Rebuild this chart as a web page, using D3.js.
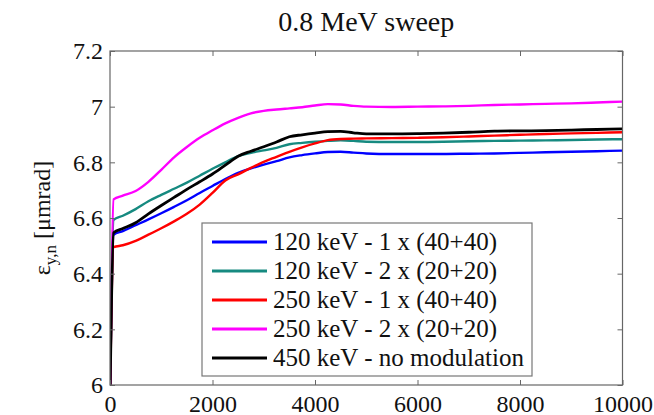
<!DOCTYPE html>
<html>
<head>
<meta charset="utf-8">
<script src="https://cdn.jsdelivr.net/npm/d3@7"></script>
<style>
  body { margin: 0; background: #fff; }
  text { font-family: "Liberation Serif", "Times New Roman", serif; fill: #111; }
</style>
</head>
<body>
<script>
// turns along the sweep (x) and emittance values per run
var turns = [0, 70, 250, 500, 750, 1000, 1250, 1500, 1750, 2000, 2250, 2500, 2750, 3000, 3250, 3500,
             3750, 4000, 4250, 4500, 4750, 5000, 5500, 6000, 6500, 7000, 7500, 8000, 8500, 9000, 9500, 10000];

var blue_vals = [5.95, 6.540, 6.553, 6.574, 6.595, 6.617, 6.640, 6.664, 6.690, 6.715, 6.740, 6.762, 6.778, 6.792, 6.804, 6.818,
                 6.826, 6.832, 6.837, 6.838, 6.835, 6.832, 6.830, 6.830, 6.830, 6.831, 6.832, 6.834, 6.836, 6.838, 6.840, 6.842];
var teal_vals = [5.95, 6.593, 6.608, 6.632, 6.660, 6.683, 6.705, 6.727, 6.752, 6.777, 6.800, 6.822, 6.834, 6.843, 6.852, 6.865,
                 6.870, 6.874, 6.877, 6.879, 6.877, 6.874, 6.873, 6.873, 6.874, 6.876, 6.877, 6.878, 6.879, 6.880, 6.882, 6.883];
var red_vals = [5.95, 6.495, 6.502, 6.518, 6.540, 6.563, 6.588, 6.615, 6.648, 6.690, 6.735, 6.757, 6.780, 6.802, 6.820, 6.838,
                6.854, 6.868, 6.880, 6.884, 6.885, 6.886, 6.887, 6.888, 6.890, 6.893, 6.896, 6.899, 6.902, 6.904, 6.906, 6.908];
var magenta_vals = [5.95, 6.667, 6.680, 6.697, 6.730, 6.773, 6.818, 6.855, 6.888, 6.915, 6.940, 6.960, 6.976, 6.985, 6.990, 6.994,
                    6.998, 7.004, 7.009, 7.008, 7.003, 7.000, 6.999, 7.000, 7.001, 7.003, 7.006, 7.008, 7.010, 7.012, 7.015, 7.018];
var black_vals = [5.95, 6.547, 6.562, 6.583, 6.615, 6.645, 6.674, 6.703, 6.730, 6.758, 6.790, 6.822, 6.840, 6.856, 6.873, 6.892,
                  6.899, 6.905, 6.910, 6.911, 6.906, 6.902, 6.902, 6.903, 6.905, 6.908, 6.912, 6.913, 6.914, 6.916, 6.918, 6.920];

var labels = ["120 keV - 1 x (40+40)", "120 keV - 2 x (20+20)", "250 keV - 1 x (40+40)",
              "250 keV - 2 x (20+20)", "450 keV - no modulation"];
var colors = ["#0000ff", "#168a80", "#ff0000", "#ff00ff", "#000000"];
var x_ticks = [0, 2000, 4000, 6000, 8000, 10000];
var y_ticks = [6, 6.2, 6.4, 6.6, 6.8, 7, 7.2];

var all_vals = [blue_vals, teal_vals, red_vals, magenta_vals, black_vals];

var width = 654,
    height = 415;
var p_left = 110, p_right = 622.5, p_top = 51, p_bottom = 385;

var svg = d3.select("body").append("svg")
            .attr("width", width)
            .attr("height", height);

var xScale = d3.scaleLinear().domain([0, 10000]).range([p_left, p_right]);
var yScale = d3.scaleLinear().domain([6, 7.2]).range([p_bottom, p_top]);

// clip so the vertical start of each run stops at the frame
svg.append("clipPath").attr("id", "plotclip")
    .append("rect")
    .attr("x", p_left).attr("y", p_top)
    .attr("width", p_right - p_left).attr("height", p_bottom - p_top);

// the lines
var line = d3.line()
    .curve(d3.curveMonotoneX)
    .x(function(d) { return xScale(d[0]); })
    .y(function(d) { return yScale(d[1]); });

var lines = svg.append("g").attr("clip-path", "url(#plotclip)");
all_vals.forEach(function(vals, i) {
    lines.append("path")
        .datum(turns.map(function(t, j) { return [t, vals[j]]; }))
        .attr("d", line)
        .style("fill", "none")
        .style("stroke", colors[i])
        .style("stroke-width", i == 4 ? 2.8 : 2.4)
        .style("stroke-linejoin", "round");
});

// axes, ticks pointing inwards like matlab
var axis_col = "#666";

var xAxis = svg.append("g")
    .attr("transform", "translate(0," + p_bottom + ")")
    .call(d3.axisBottom(xScale).tickValues(x_ticks).tickSizeInner(-5).tickSizeOuter(0).tickPadding(10)
          .tickFormat(d3.format("d")));
var yAxis = svg.append("g")
    .attr("transform", "translate(" + p_left + ",0)")
    .call(d3.axisLeft(yScale).tickValues(y_ticks).tickSizeInner(-5).tickSizeOuter(0).tickPadding(7)
          .tickFormat(function(d) { return String(+d.toFixed(1)); }));
var xTop = svg.append("g")
    .attr("transform", "translate(0," + p_top + ")")
    .call(d3.axisTop(xScale).tickValues(x_ticks).tickSizeInner(-5).tickSizeOuter(0).tickFormat(""));
var yRight = svg.append("g")
    .attr("transform", "translate(" + p_right + ",0)")
    .call(d3.axisRight(yScale).tickValues(y_ticks).tickSizeInner(-5).tickSizeOuter(0).tickFormat(""));

[xAxis, yAxis, xTop, yRight].forEach(function(a) {
    a.select(".domain").remove();
    a.selectAll("line").style("stroke", axis_col);
    a.selectAll("text")
        .style("font-family", '"Liberation Serif", serif')
        .style("font-size", "24px")
        .style("fill", "#111");
});

svg.append("rect")
    .attr("x", p_left).attr("y", p_top)
    .attr("width", p_right - p_left).attr("height", p_bottom - p_top)
    .style("fill", "none")
    .style("stroke", axis_col)
    .style("stroke-width", 1.2);

// title
svg.append("text")
    .attr("x", (p_left + p_right) / 2)
    .attr("y", 31)
    .attr("text-anchor", "middle")
    .style("font-size", "28px")
    .text("0.8 MeV sweep");

// y label with subscript
var ylab = svg.append("text")
    .attr("transform", "translate(50," + (p_top + p_bottom) / 2 + ") rotate(-90)")
    .attr("text-anchor", "middle")
    .style("font-size", "24px");
ylab.append("tspan").text("\u03B5");
ylab.append("tspan").attr("dy", 6).style("font-size", "17px").text("y,n");
ylab.append("tspan").attr("dy", -6).text(" [\u03BCmrad]");

// legend
var leg_x = 202, leg_y = 223, leg_w = 330, leg_h = 153, row_h = 29;

var legend = svg.append("g");
legend.append("rect")
    .attr("x", leg_x).attr("y", leg_y)
    .attr("width", leg_w).attr("height", leg_h)
    .style("fill", "#fff")
    .style("stroke", "#777")
    .style("stroke-width", 1.2);

labels.forEach(function(lab, i) {
    var yy = leg_y + 19 + i * row_h;
    legend.append("line")
        .attr("x1", leg_x + 10).attr("x2", leg_x + 65)
        .attr("y1", yy).attr("y2", yy)
        .style("stroke", colors[i])
        .style("stroke-width", 3);
    legend.append("text")
        .attr("x", leg_x + 71)
        .attr("y", yy)
        .attr("dy", "0.33em")
        .style("font-size", "25px")
        .text(lab);
});
</script>
</body>
</html>
